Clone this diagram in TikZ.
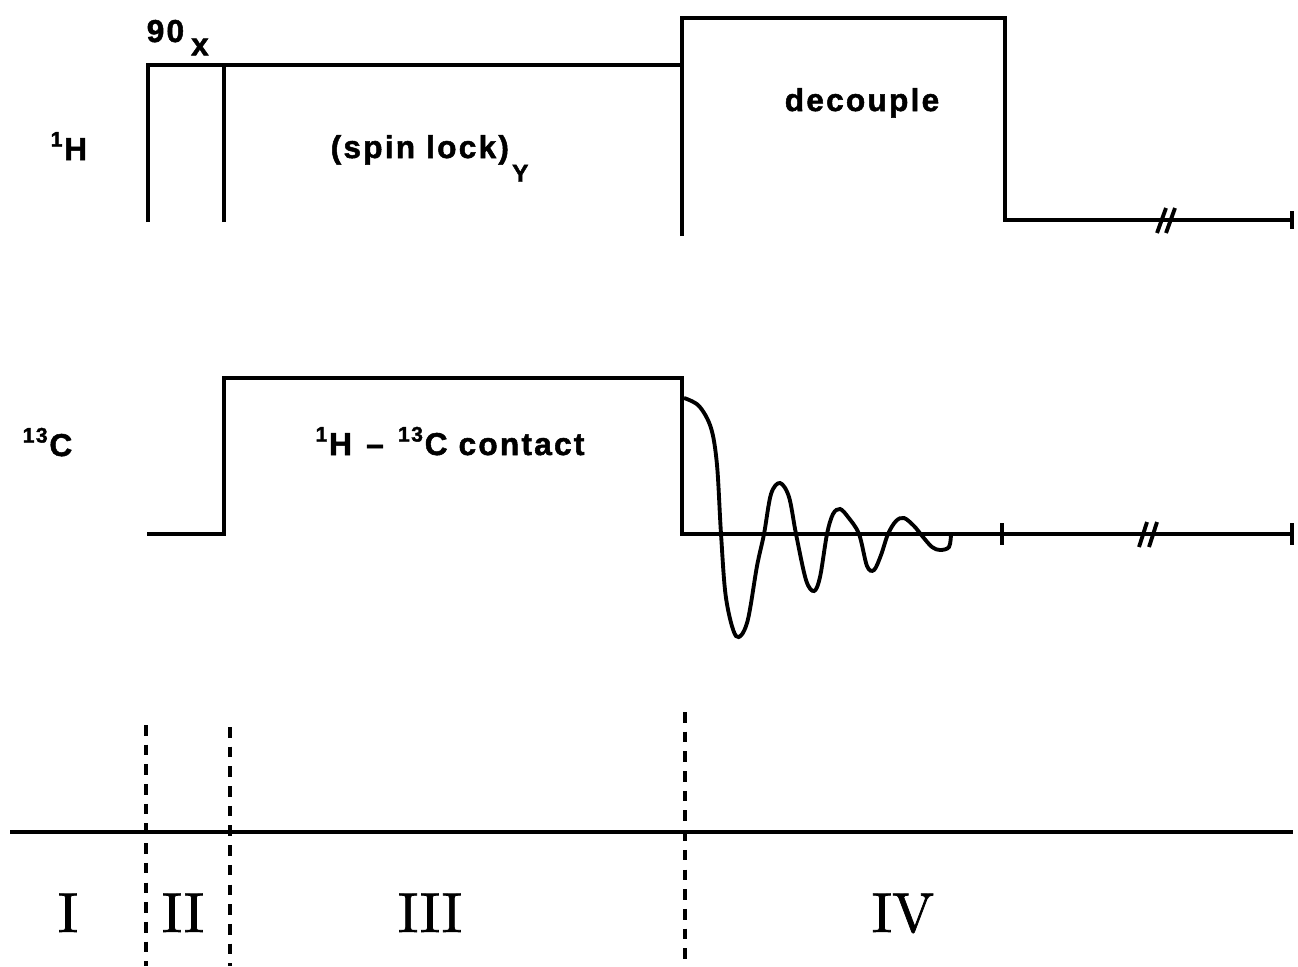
\documentclass[tikz,border=0pt]{standalone}
\usepackage{fontspec}
\newfontfamily\lab[LetterSpace=7, FakeBold=1.6]{Liberation Sans}
\newfontfamily\rom[FakeBold=1.2]{lmroman10-regular.otf}
\begin{document}
\begin{tikzpicture}[x=0.01cm,y=-0.01cm,
  wire/.style={line width=0.9pt, line join=miter, line cap=butt},
  tickmark/.style={line width=1.1pt},
  sep/.style={line width=0.95pt, dash pattern=on 3pt off 2.6pt},
  txt/.style={font=\lab\bfseries\fontsize{9}{11}\selectfont, inner sep=0pt},
  roman/.style={font=\rom\fontsize{16}{18}\selectfont, inner sep=0pt}]
\useasboundingbox (0,0) rectangle (1298,966);

% ---------- 1H channel ----------
\coordinate (h0) at (148,222);
\coordinate (h1) at (148,65);
\coordinate (h2) at (682,65);
\coordinate (h3) at (224,222);
\coordinate (h4) at (224,65);
\coordinate (d0) at (682,236);
\coordinate (d1) at (682,18);
\coordinate (d2) at (1005,18);
\coordinate (d3) at (1005,220);
\coordinate (hend) at (1292,220);
\draw[wire] (h0) -- (h1) -- (h2);
\draw[wire] (h3) -- (h4);
\draw[wire] (d0) -- (d1) -- (d2) -- (d3) -- (hend);
\draw[tickmark] ([yshift=0.09cm]hend) -- ([yshift=-0.09cm]hend);
\draw[tickmark] (1157,233) -- (1166,208);
\draw[tickmark] (1166,233) -- (1175,208);

% ---------- 13C channel ----------
\coordinate (c0) at (147,534);
\coordinate (c1) at (224,534);
\coordinate (c2) at (224,378);
\coordinate (c3) at (682,378);
\coordinate (c4) at (682,534);
\coordinate (cend) at (1292,534);
\coordinate (ctick) at (1002,534);
\draw[wire] (c0) -- (c1) -- (c2) -- (c3) -- (c4) -- (cend);
\draw[tickmark] ([yshift=0.11cm]ctick) -- ([yshift=-0.11cm]ctick);
\draw[tickmark] ([yshift=0.11cm]cend) -- ([yshift=-0.11cm]cend);
\draw[tickmark] (1139,547) -- (1147,522);
\draw[tickmark] (1149,547) -- (1157,522);

% FID
\draw[wire, line width=1.1pt] plot[smooth, tension=0.55] coordinates {
 (684,398) (699,406) (711,428) (717,465) (721,534) (726,598) (736,636)
 (747,623) (757,566) (764,534) (771,494) (780,483) (789,497) (796,534)
 (806,580) (814,591) (820,577) (827,534) (833,514) (840,509) (848,517)
 (859,534) (867,566) (874,570) (881,555) (888,534) (896,521) (904,518)
 (914,526) (923,537) (932,547) (940,550) (949,547) (951,534)};

% ---------- time axis ----------
\coordinate (a0) at (10,832);
\coordinate (a1) at (1293,832);
\draw[wire] (a0) -- (a1);
\draw[sep] (146,725) -- (146,966);
\draw[sep] (230,727) -- (230,966);
\draw[sep] (685,712) -- (685,966);

% ---------- labels ----------
\node[txt, anchor=base west] (t90) at (146,42) {90\hspace{0.22em}\raisebox{-0.42em}{x}};
\node[txt, anchor=base west] (tH) at (50,160) {\textsuperscript{1}H};
\node[txt, anchor=base west] (tC) at (22,456) {\textsuperscript{13}C};
\node[txt, anchor=base west] (tspin) at (330,158) {(spin lock)\hspace{0.1em}\raisebox{-0.75em}{\fontsize{7}{8}\selectfont Y}};
\node[txt, anchor=base] (tdec) at (862,111) {decouple};
\node[txt, anchor=base] (tcont) at (450,455) {\textsuperscript{1}H\hspace{0.45em}\textendash\hspace{0.45em}\textsuperscript{13}C contact};

\node[roman, anchor=base] (r1) at (68,932) {I};
\node[roman, anchor=base] (r2) at (183,932) {II};
\node[roman, anchor=base] (r3) at (430,932) {III};
\node[roman, anchor=base] (r4) at (903,932) {IV};
\end{tikzpicture}
\end{document}
